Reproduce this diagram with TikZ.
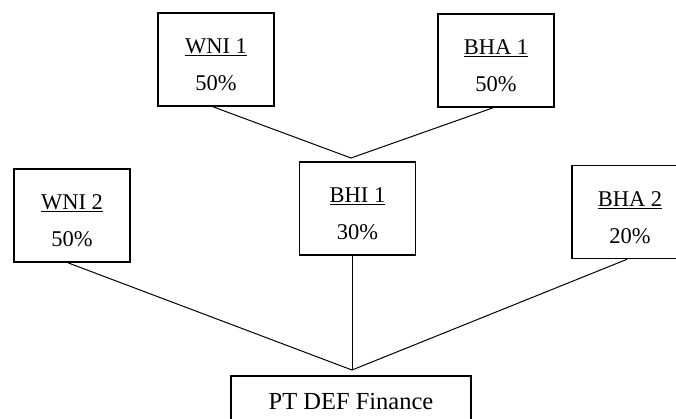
\documentclass[tikz,border=0pt]{standalone}
\usepackage{fontspec}
\setmainfont{Liberation Serif}
\usepackage{tikz}

\begin{document}
\begin{tikzpicture}[x=1pt, y=-1pt, line width=1pt]

\useasboundingbox (0,0) rectangle (676,418);
\clip (0,0) rectangle (676,418);

\path [every node/.style={draw, line width=1.6pt, inner sep=0pt, minimum width=116pt, minimum height=93pt, align=center, font=\fontsize{22.5}{37}\selectfont}]
  node (wni1) at (216,59.5) {\strut\underline{WNI 1}\\50\%}
  node (bha1) at (496,60.5) {\strut\underline{BHA 1}\\50\%}
  node (wni2) at (72,215.5) {\strut\underline{WNI 2}\\50\%}
  node (bhi1) at (357.5,208.5) {\strut\underline{BHI 1}\\30\%}
  node (bha2) at (630,212) {\strut\underline{BHA 2}\\20\%}
  node[minimum width=240pt, minimum height=50pt, font=\fontsize{24.5}{30}\selectfont] (pt) at (351,401) {PT DEF Finance};

\coordinate (atas) at (351,158);
\coordinate (bawah) at (352,370);

% pemegang saham BHI 1
\draw ([xshift=-3pt]wni1.south) -- (atas) -- ([xshift=-3pt]bha1.south);
% pemegang saham PT DEF Finance
\draw ([xshift=-4pt]wni2.south) -- (bawah) -- ([xshift=-3pt]bha2.south);
\draw ([xshift=-5.5pt]bhi1.south) -- (bawah);

\end{tikzpicture}
\end{document}
